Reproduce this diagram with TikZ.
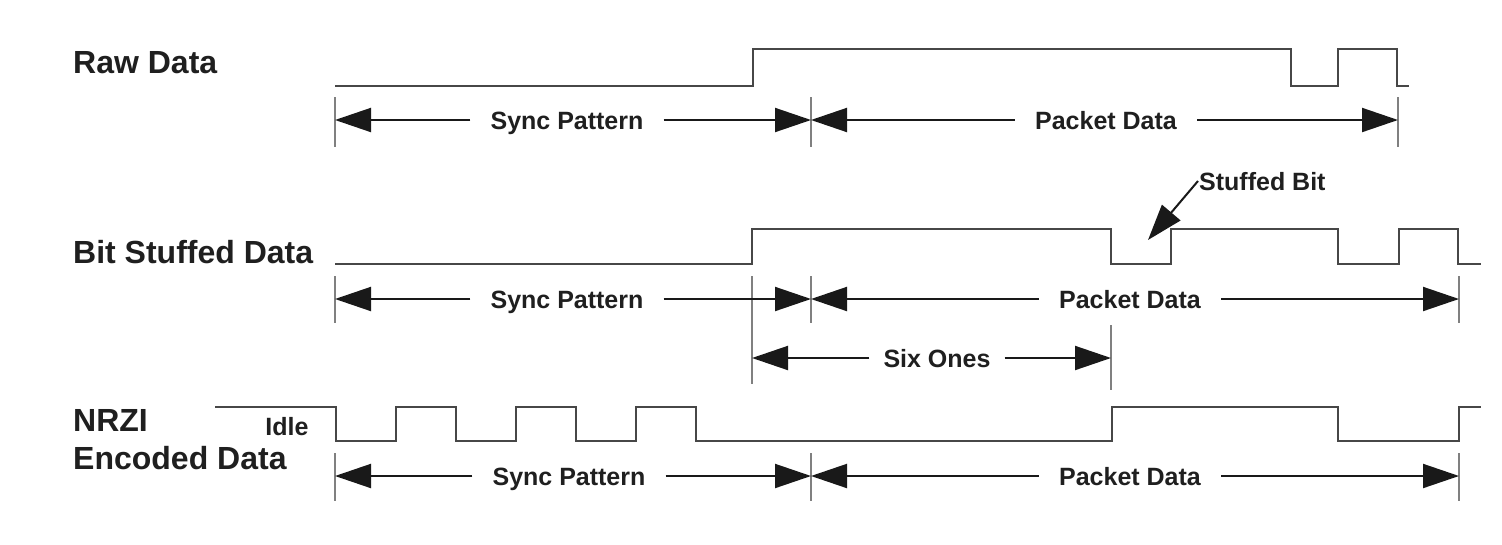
\documentclass[tikz,border=0pt]{standalone}
\usepackage{fontspec}
\setmainfont{Liberation Sans}
\usetikzlibrary{arrows.meta}
\begin{document}
\begin{tikzpicture}[x=1pt,y=-1pt,
  rowlabel/.style={anchor=west, inner sep=0pt, font=\fontsize{32}{36}\selectfont\bfseries, text=black!88},
  dimlabel/.style={inner xsep=20pt, inner ysep=0pt, text height=18pt, text depth=0pt, font=\fontsize{25}{28}\selectfont\bfseries, text=black!88},
  dimline/.style={draw=black!90, line width=2pt, -{Triangle[length=36pt,width=24pt]}},
  sig/.style={draw=black!72, line width=2.6pt},
  tickline/.style={draw=black!50, line width=1.5pt}]
\useasboundingbox (0,0) rectangle (1502,544);

% ---------- row labels
\node[rowlabel] (lraw) at (73,63) {Raw Data};
\node[rowlabel] (lbit) at (73,252) {Bit Stuffed Data};
\node[rowlabel] (lnrzi) at (73,420) {NRZI};
\node[rowlabel] (lenc) at (73,458) {Encoded Data};

% ---------- signals
\draw[sig] (335,86) -| (753,49) -| (1291,86) -| (1338,49) -| (1397,86) -- (1409,86);
\draw[sig] (335,264) -| (752,229) -| (1111,264) -| (1171,229) -| (1338,264) -| (1399,229) -| (1458,264) -- (1481,264);
\draw[sig] (215,407) -| (336,441) -| (396,407) -| (456,441) -| (516,407) -| (576,441) -| (636,407) -| (696,441) -| (1112,407) -| (1338,441) -| (1459,407) -- (1481,407);

% ---------- ticks
\foreach \x in {335,811,1398} \draw[tickline] (\x,97) -- (\x,147);
\foreach \x in {335,811,1459} \draw[tickline] (\x,276) -- (\x,323);
\draw[tickline] (752,276) -- (752,384);
\draw[tickline] (1111,325) -- (1111,390);
\foreach \x in {335,811,1459} \draw[tickline] (\x,453) -- (\x,501);

% ---------- row 1 dimensions
\coordinate (a1) at (335,120);
\coordinate (b1) at (811,120);
\coordinate (c1) at (1398,120);
\node[dimlabel] (sync1) at (567,120) {Sync Pattern};
\node[dimlabel] (pack1) at (1106,120) {Packet Data};
\draw[dimline] (sync1.west) -- (a1);
\draw[dimline] (sync1.east) -- (b1);
\draw[dimline] (pack1.west) -- (b1);
\draw[dimline] (pack1.east) -- (c1);

% ---------- row 2 dimensions
\coordinate (a2) at (335,299);
\coordinate (b2) at (811,299);
\coordinate (c2) at (1459,299);
\node[dimlabel] (sync2) at (567,299) {Sync Pattern};
\node[dimlabel] (pack2) at (1130,299) {Packet Data};
\draw[dimline] (sync2.west) -- (a2);
\draw[dimline] (sync2.east) -- (b2);
\draw[dimline] (pack2.west) -- (b2);
\draw[dimline] (pack2.east) -- (c2);

\coordinate (s6a) at (752,358);
\coordinate (s6b) at (1111,358);
\node[dimlabel, inner xsep=14pt] (six) at (937,358) {Six Ones};
\draw[dimline] (six.west) -- (s6a);
\draw[dimline] (six.east) -- (s6b);

% stuffed bit callout
\node[font=\fontsize{25}{28}\selectfont\bfseries, text=black!88, anchor=west, inner xsep=1pt, text height=18pt, text depth=0pt] (stuffed) at (1198,181) {Stuffed Bit};
\coordinate (sbtip) at (1148,240);
\draw[dimline] (stuffed.west) -- (sbtip);

% ---------- row 3 dimensions
\node[font=\fontsize{25}{28}\selectfont\bfseries, text=black!88, inner sep=0pt] (idle) at (287,427) {Idle};
\coordinate (a3) at (335,476);
\coordinate (b3) at (811,476);
\coordinate (c3) at (1459,476);
\node[dimlabel] (sync3) at (569,476) {Sync Pattern};
\node[dimlabel] (pack3) at (1130,476) {Packet Data};
\draw[dimline] (sync3.west) -- (a3);
\draw[dimline] (sync3.east) -- (b3);
\draw[dimline] (pack3.west) -- (b3);
\draw[dimline] (pack3.east) -- (c3);
\end{tikzpicture}
\end{document}
